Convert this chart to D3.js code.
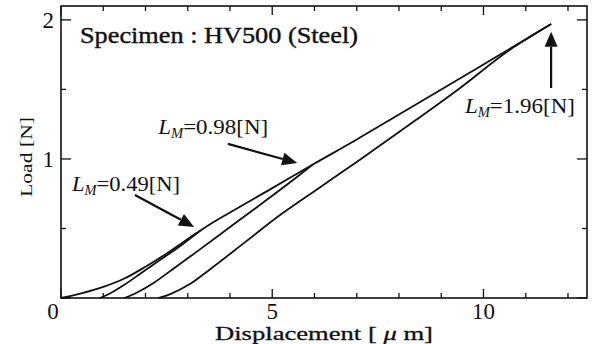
<!DOCTYPE html>
<html><head><meta charset="utf-8">
<script src="https://cdn.jsdelivr.net/npm/d3@7"></script>
<style>html,body{margin:0;padding:0;background:#fff;}svg{display:block;}</style>
</head><body>
<svg id="c" width="595" height="344"></svg>
<script>
// Loading curve (common)
const loadH = [0, 0.5, 1.0, 1.5, 2.0, 2.5, 3.0, 3.3, 3.5, 4.0, 5.0, 5.96, 7.0, 8.0, 9.0, 10.0, 11.0, 11.6];
const loadP = [0, 0.035, 0.08, 0.14, 0.225, 0.32, 0.425, 0.485, 0.525, 0.615, 0.79, 0.96, 1.14, 1.32, 1.50, 1.68, 1.86, 1.97];
// Unloading from 0.49 N
const un049H = [0.92, 1.2, 1.5, 1.9, 2.35, 2.85, 3.3];
const un049P = [0, 0.04, 0.095, 0.18, 0.275, 0.38, 0.485];
// Unloading from 0.98 N
const un098H = [1.5, 1.8, 2.2, 2.7, 3.2, 4.0, 4.8, 5.5, 5.96];
const un098P = [0, 0.04, 0.11, 0.22, 0.33, 0.51, 0.69, 0.85, 0.96];
// Unloading from 1.96 N
const un196H = [2.3, 2.6, 3.05, 3.5, 4.35, 5.2, 6.1, 7.1, 8.4, 9.4, 10.6, 11.6];
const un196P = [0, 0.03, 0.10, 0.20, 0.40, 0.60, 0.79, 1.0, 1.28, 1.5, 1.78, 1.97];

const xMajor = [0, 5, 10];
const xMinor = [1, 2, 3, 4, 6, 7, 8, 9, 11, 12];
const yMajor = [0, 1, 2];
const yMinor = [0.5, 1.5];
const yLabels = [1, 2];

const svg = d3.select("#c");
const x = d3.scaleLinear().domain([0, 12.45]).range([61, 587]);
const y = d3.scaleLinear().domain([0, 2.1]).range([298, 6]);
const serif = "'Liberation Serif','Times New Roman',serif";
const ink = "#111";

// frame
svg.append("rect").attr("x", x(0)).attr("y", y(2.1))
  .attr("width", x(12.45) - x(0)).attr("height", y(0) - y(2.1))
  .attr("fill", "none").attr("stroke", ink).attr("stroke-width", 1.6);

// ticks (inward, all four sides)
const tk = svg.append("g").attr("stroke", ink).attr("stroke-width", 1.3);
function xt(v, len) {
  tk.append("line").attr("x1", x(v)).attr("x2", x(v)).attr("y1", y(0)).attr("y2", y(0) - len);
  tk.append("line").attr("x1", x(v)).attr("x2", x(v)).attr("y1", y(2.1)).attr("y2", y(2.1) + len);
}
function yt(v, len) {
  tk.append("line").attr("y1", y(v)).attr("y2", y(v)).attr("x1", x(0)).attr("x2", x(0) + len);
  tk.append("line").attr("y1", y(v)).attr("y2", y(v)).attr("x1", x(12.45)).attr("x2", x(12.45) - len);
}
xMajor.forEach(v => xt(v, 9));
xMinor.forEach(v => xt(v, 5));
yMajor.forEach(v => yt(v, 10));
yMinor.forEach(v => yt(v, 5));

// tick labels
svg.append("g").selectAll("text").data(xMajor).join("text")
  .attr("x", d => d === 0 ? x(d) - 8 : x(d)).attr("y", 319)
  .attr("text-anchor", "middle").attr("font-family", serif)
  .attr("font-size", 23).attr("fill", ink).text(d => d);
svg.append("g").selectAll("text").data(yLabels).join("text")
  .attr("x", 54).attr("y", d => y(d) + 8)
  .attr("text-anchor", "end").attr("font-family", serif)
  .attr("font-size", 23).attr("fill", ink).text(d => d);

// axis titles
const xt1 = svg.append("text").attr("x", 215).attr("y", 340)
  .attr("font-family", serif).attr("font-size", 19).attr("fill", ink)
  .attr("stroke", ink).attr("stroke-width", 0.3)
  .attr("textLength", 218).attr("lengthAdjust", "spacingAndGlyphs");
xt1.append("tspan").text("Displacement [ ");
xt1.append("tspan").attr("font-style", "italic").text("μ");
xt1.append("tspan").text(" m]");
svg.append("text").attr("transform", "translate(32,197) rotate(-90)")
  .attr("font-family", serif).attr("font-size", 17).attr("fill", ink)
  .attr("textLength", 80).attr("lengthAdjust", "spacingAndGlyphs")
  .text("Load [N]");

// curves
const line = d3.line().x(d => x(d[0])).y(d => y(d[1])).curve(d3.curveMonotoneX);
const series = [[loadH, loadP], [un049H, un049P], [un098H, un098P], [un196H, un196P]];
svg.append("g").selectAll("path").data(series).join("path")
  .attr("d", s => line(s[0].map((h, i) => [h, s[1][i]])))
  .attr("fill", "none").attr("stroke", ink).attr("stroke-width", 1.8)
  .attr("stroke-linejoin", "round");

// specimen label
svg.append("text").attr("x", x(0.45)).attr("y", y(1.835))
  .attr("font-family", serif).attr("font-size", 23).attr("fill", ink)
  .attr("stroke", ink).attr("stroke-width", 0.4)
  .attr("textLength", 278).attr("lengthAdjust", "spacingAndGlyphs")
  .text("Specimen : HV500 (Steel)");

// annotations
const notes = [
  {label: "0.49", tx: 0.26, tp: 0.77, w: 108, a: [1.75, 0.741, 3.15, 0.511]},
  {label: "0.98", tx: 2.30, tp: 1.18, w: 110, a: [3.95, 1.108, 5.59, 0.971]},
  {label: "1.96", tx: 9.56, tp: 1.331, w: 110, a: [11.6, 1.51, 11.6, 1.914]}
];
notes.forEach(n => {
  const t = svg.append("text").attr("x", x(n.tx)).attr("y", y(n.tp))
    .attr("font-family", serif).attr("font-size", 22).attr("fill", ink)
    .attr("textLength", n.w).attr("lengthAdjust", "spacingAndGlyphs");
  t.append("tspan").attr("font-style", "italic").text("L");
  t.append("tspan").attr("font-style", "italic").attr("font-size", 14).attr("dy", 4).text("M");
  t.append("tspan").attr("dy", -4).text("=" + n.label + "[N]");
  const x1 = x(n.a[0]), y1 = y(n.a[1]), x2 = x(n.a[2]), y2 = y(n.a[3]);
  const ang = Math.atan2(y2 - y1, x2 - x1);
  const hl = 15, hw = 6.5;
  const bx = x2 - hl * Math.cos(ang), by = y2 - hl * Math.sin(ang);
  svg.append("line").attr("x1", x1).attr("y1", y1).attr("x2", bx).attr("y2", by)
    .attr("stroke", ink).attr("stroke-width", 2.2);
  const px = -Math.sin(ang), py = Math.cos(ang);
  svg.append("path").attr("d", `M${x2},${y2}L${bx + px * hw},${by + py * hw}L${bx - px * hw},${by - py * hw}Z`)
    .attr("fill", ink);
});
</script>
</body></html>
